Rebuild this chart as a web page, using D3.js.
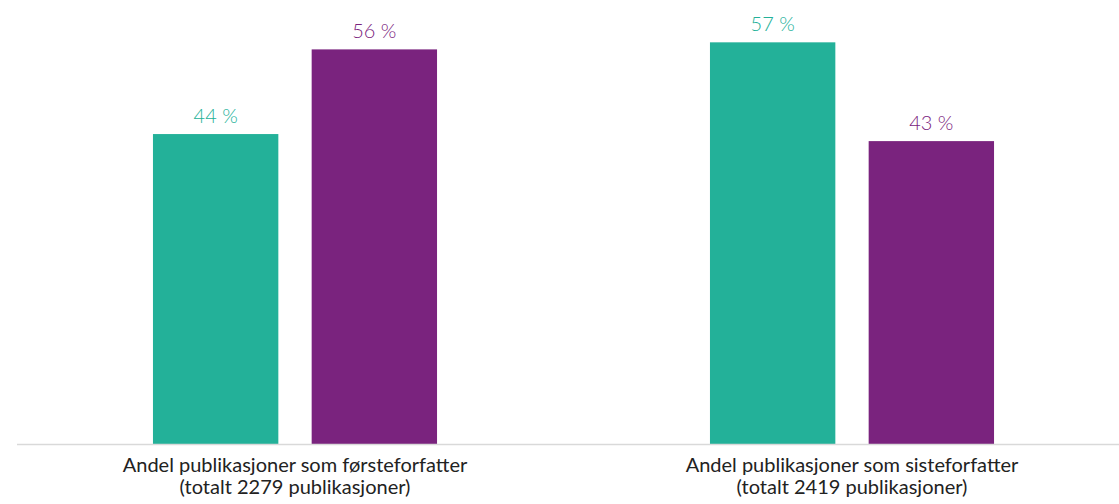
<!DOCTYPE html>
<html>
<head>
<meta charset="utf-8">
<script src="https://cdn.jsdelivr.net/npm/d3@7"></script>
<style>
  html, body { margin: 0; padding: 0; background: #fff; }
  svg { display: block; }
  text { font-family: Lato, "Open Sans", sans-serif; }
</style>
</head>
<body>
<svg id="chart" width="1119" height="504"></svg>
<script>
const categories = [
  ["Andel publikasjoner som førsteforfatter", "(totalt 2279 publikasjoner)"],
  ["Andel publikasjoner som sisteforfatter", "(totalt 2419 publikasjoner)"]
];
const seriesNames = ["A", "B"];
const seriesA = [44, 57];
const seriesB = [56, 43];
const colors = ["#23B199", "#7A237E"];

const svg = d3.select("#chart");
const baseY = 444.5;

const catKeys = categories.map((c, i) => i);
const x0 = d3.scaleBand().domain(catKeys).range([16.5, 1130.5])
  .paddingInner(0.49).paddingOuter(0.245);
const x1 = d3.scaleBand().domain(seriesNames).range([0, x0.bandwidth()])
  .paddingInner(0.21).paddingOuter(0);
const y = d3.scaleLinear().domain([0, 63]).range([baseY, 0]);

const values = [seriesA, seriesB];

const groups = svg.selectAll("g.grp").data(catKeys).enter().append("g")
  .attr("class", "grp")
  .attr("transform", d => `translate(${x0(d)},0)`);

seriesNames.forEach((s, si) => {
  groups.append("rect")
    .attr("x", x1(s))
    .attr("width", x1.bandwidth())
    .attr("y", d => y(values[si][d]))
    .attr("height", d => baseY - y(values[si][d]))
    .attr("fill", colors[si]);
  groups.append("text")
    .attr("x", x1(s) + x1.bandwidth() / 2)
    .attr("y", d => y(values[si][d]) - 11)
    .attr("text-anchor", "middle")
    .attr("font-size", 20)
    .attr("font-weight", 300)
    .attr("fill", colors[si])
    .text(d => values[si][d] + " %");
});

// axis
const axis = d3.axisBottom(x0).tickSize(0).tickFormat("");
const ax = svg.append("g").attr("transform", `translate(0,${baseY})`).call(axis);
ax.select(".domain").attr("stroke", "#d9d9d9").attr("stroke-width", 1.5)
  .attr("d", `M17,0H1119`);

ax.selectAll(".tick").each(function(d) {
  const t = d3.select(this).append("text")
    .attr("text-anchor", "middle")
    .attr("fill", "#222")
    .attr("font-size", 20);
  t.append("tspan").attr("x", 0).attr("y", 27).text(categories[d][0]);
  t.append("tspan").attr("x", 0).attr("y", 49).text(categories[d][1]);
});
</script>
</body>
</html>
